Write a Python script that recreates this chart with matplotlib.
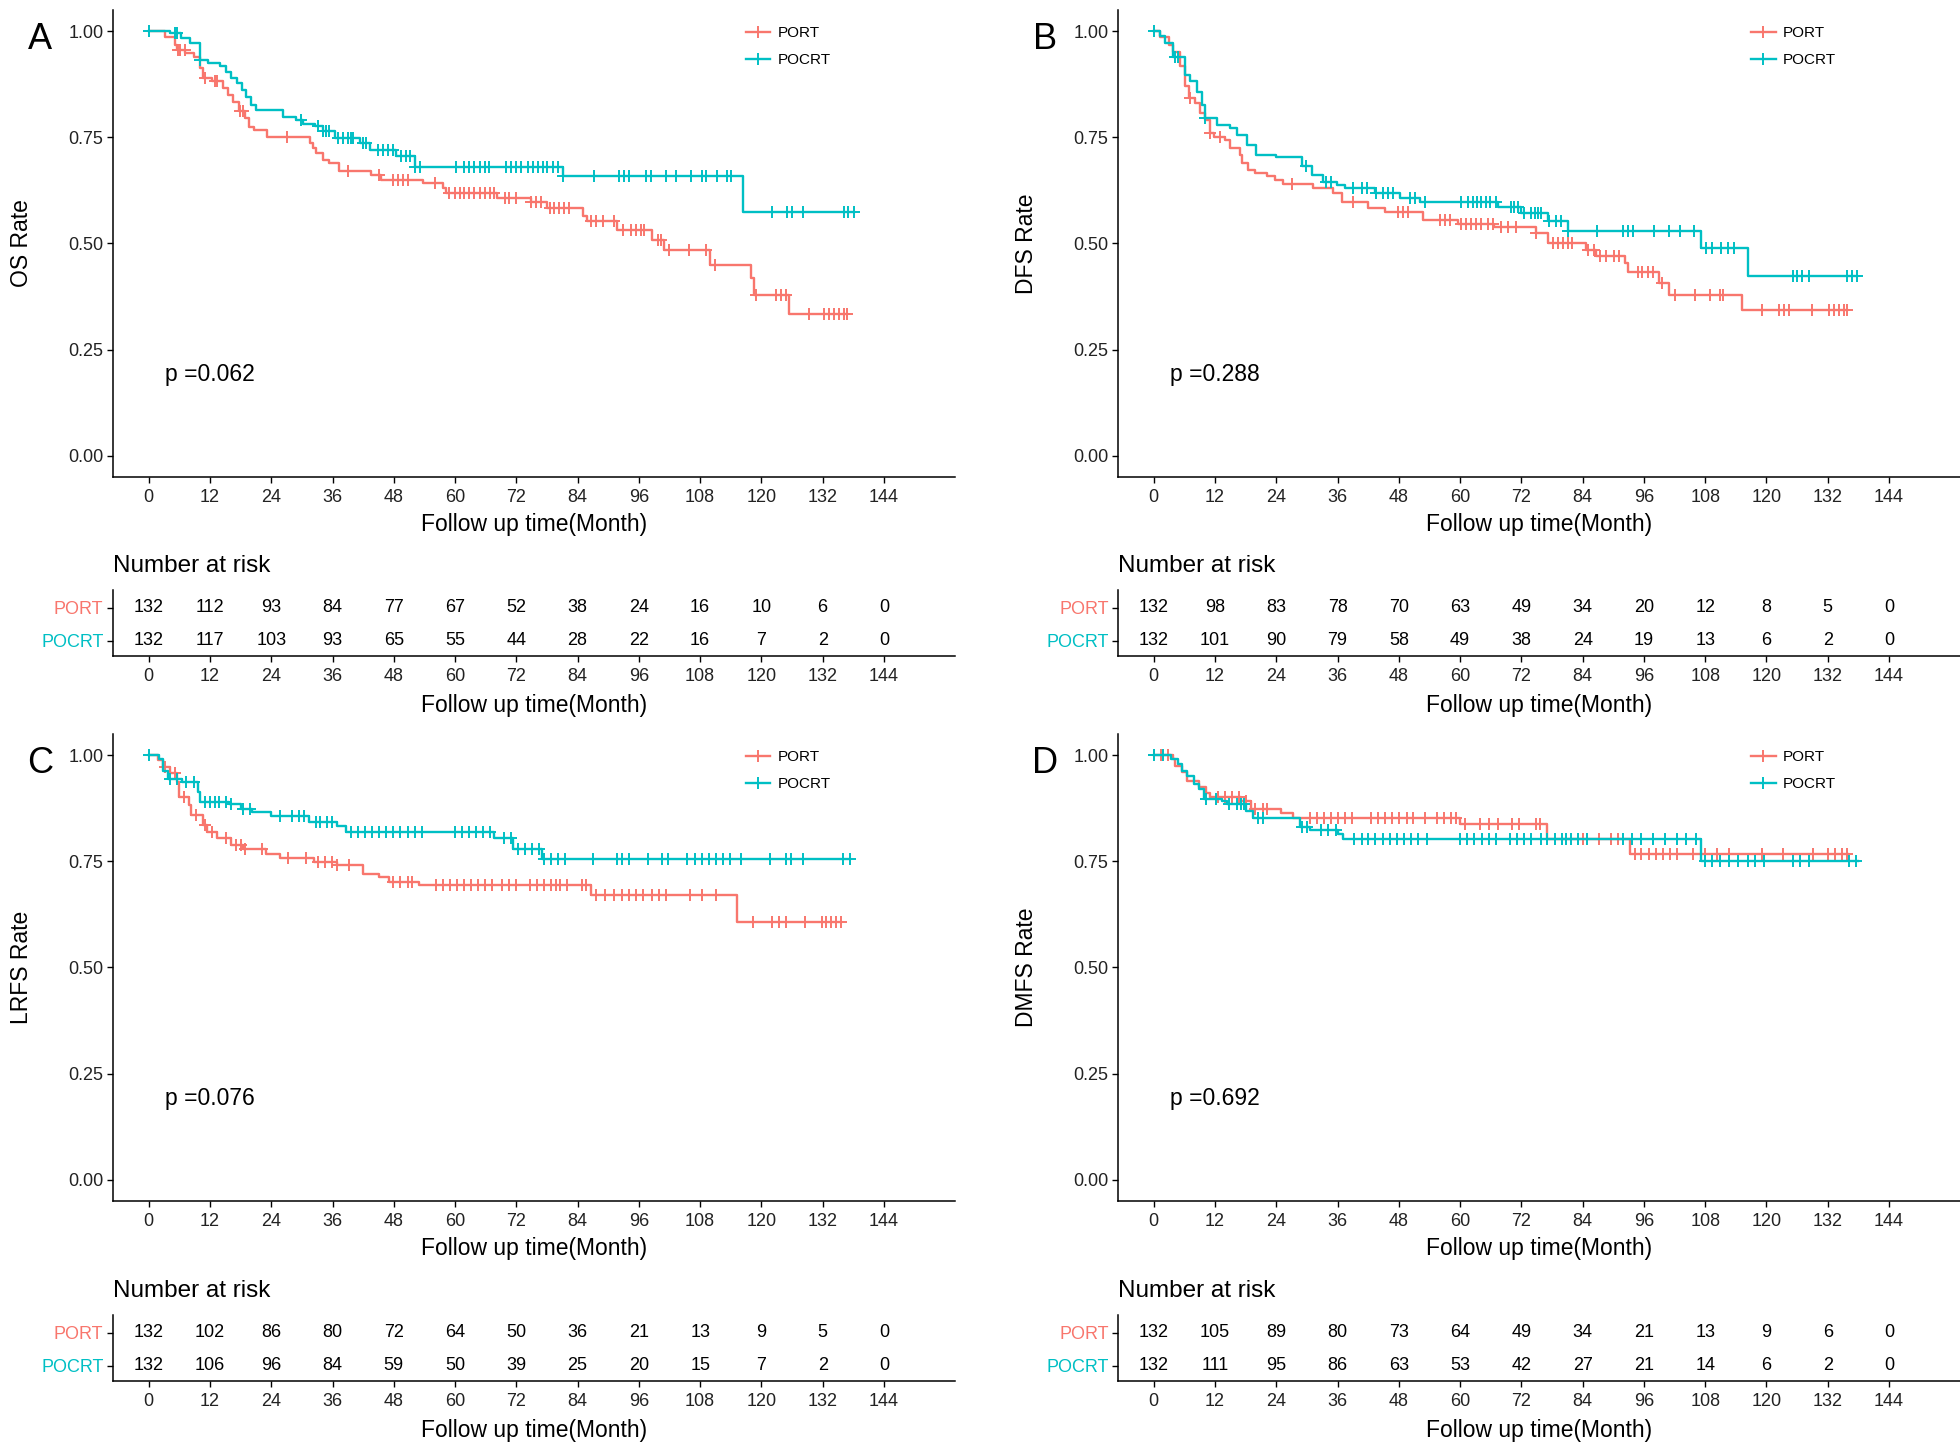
import numpy as np
import matplotlib.pyplot as plt
from matplotlib.lines import Line2D

plt.rcParams['font.family'] = ['Liberation Sans', 'DejaVu Sans']

RED = '#F8766D'
TEAL = '#00BFC4'
groups = ['PORT', 'POCRT']
breaks = [0, 12, 24, 36, 48, 60, 72, 84, 96, 108, 120, 132, 144]

# ---- A: OS ----
os_port_t = [0, 3.2, 5.1, 5.5, 7.2, 8.8, 10.1, 10.7, 12.4, 14.6, 15.6, 16.6, 17.6, 18.8, 19.6, 20.6, 23.2,
             31.5, 32.2, 32.8, 34.1, 35.4, 37.3, 43.5, 45.5, 53.7, 57.7, 58.3, 68.3, 74.9, 78.1, 85.0, 85.9,
             91.7, 98.6, 100.9, 110.0, 117.9, 118.6, 125.4]
os_port_s = [1.0, 0.987, 0.968, 0.956, 0.948, 0.94, 0.913, 0.889, 0.882, 0.866, 0.85, 0.834, 0.811, 0.795,
             0.775, 0.767, 0.752, 0.736, 0.725, 0.713, 0.697, 0.689, 0.67, 0.662, 0.65, 0.643, 0.63, 0.619,
             0.608, 0.597, 0.583, 0.564, 0.552, 0.532, 0.509, 0.484, 0.45, 0.419, 0.379, 0.334]
os_port_end = 136.8
os_port_cens = [5.8, 6.1, 7.1, 11.0, 13.0, 13.3, 17.8, 18.5, 27.0, 39.0, 45.2, 47.8, 48.8, 49.8, 50.8, 56.0,
                58.9, 59.9, 60.9, 61.8, 62.8, 63.8, 64.8, 65.8, 66.8, 67.7, 69.7, 70.6, 71.9, 74.9, 75.9, 76.8,
                78.5, 79.4, 80.4, 81.4, 82.4, 86.6, 87.6, 88.9, 91.2, 92.8, 94.4, 95.4, 96.4, 97.1, 99.7, 100.3,
                101.9, 105.9, 109.1, 111.0, 118.9, 122.8, 123.8, 124.8, 129.3, 132.3, 133.2, 134.2, 135.2,
                136.2, 136.8]
os_pocrt_t = [0, 4.2, 6.4, 8.1, 10.0, 11.6, 13.9, 15.2, 16.2, 17.2, 18.2, 19.1, 20.1, 21.1, 26.3, 28.9, 30.2,
              32.5, 34.1, 36.4, 41.3, 43.3, 48.5, 52.1, 81.1, 116.3]
os_pocrt_s = [1.0, 0.995, 0.984, 0.972, 0.932, 0.925, 0.917, 0.905, 0.889, 0.878, 0.862, 0.846, 0.826, 0.815,
              0.799, 0.791, 0.782, 0.776, 0.766, 0.748, 0.736, 0.721, 0.705, 0.681, 0.658, 0.575]
os_pocrt_end = 138.1
os_pocrt_cens = [0, 5.1, 5.5, 10.0, 29.9, 33.2, 34.1, 34.8, 35.4, 37.1, 38.1, 39.0, 39.7, 40.0, 42.0, 42.6,
                 44.9, 45.9, 46.8, 47.8, 49.5, 50.4, 51.1, 52.1, 53.1, 60.2, 61.8, 62.8, 63.8, 64.8, 65.8, 66.7,
                 70.0, 70.9, 71.9, 72.9, 74.2, 75.2, 76.2, 77.2, 78.1, 79.1, 80.1, 81.1, 87.3, 92.2, 93.0, 94.0,
                 97.4, 98.3, 101.3, 103.2, 106.2, 108.3, 109.1, 111.4, 113.3, 114.0, 122.1, 125.1, 125.9, 128.1,
                 136.1, 137.0, 138.1]

# ---- B: DFS ----
dfs_port_t = [0, 1.2, 2.9, 3.8, 5.1, 6.1, 6.8, 8.1, 9.0, 10.0, 11.0, 11.7, 14.0, 14.9, 16.9, 17.2, 18.5, 19.8,
              22.1, 23.7, 25.4, 31.2, 35.1, 36.8, 42.0, 45.2, 52.7, 59.6, 66.7, 74.9, 77.2, 84.7, 86.6, 92.2,
              92.8, 99.0, 101.0, 115.3]
dfs_port_s = [1.0, 0.987, 0.968, 0.952, 0.917, 0.87, 0.842, 0.831, 0.807, 0.791, 0.76, 0.752, 0.744, 0.725,
              0.709, 0.689, 0.674, 0.666, 0.658, 0.65, 0.641, 0.631, 0.619, 0.597, 0.584, 0.573, 0.556, 0.547,
              0.54, 0.525, 0.501, 0.485, 0.47, 0.454, 0.434, 0.407, 0.379, 0.344]
dfs_port_end = 135.8
dfs_port_cens = [7.1, 11.0, 13.0, 27.0, 39.0, 47.8, 48.8, 49.8, 56.0, 57.0, 58.0, 60.2, 61.2, 62.2, 63.2, 64.1,
                 65.4, 66.4, 68.0, 69.3, 71.0, 74.9, 78.1, 79.1, 80.1, 81.1, 82.0, 85.0, 86.3, 87.3, 88.6, 90.2,
                 91.2, 94.8, 95.7, 96.7, 97.7, 99.6, 102.0, 106.0, 109.0, 110.8, 111.4, 119.2, 122.5, 123.5,
                 124.4, 129.0, 132.3, 133.2, 134.2, 135.2, 135.8]
dfs_pocrt_t = [0, 1.2, 2.2, 3.8, 6.1, 7.1, 8.4, 9.4, 10.0, 12.3, 14.9, 16.2, 18.2, 20.1, 24.0, 29.0, 30.9, 33.2,
               35.8, 37.4, 43.3, 48.2, 52.1, 67.5, 71.9, 77.2, 81.1, 107.2, 116.3]
dfs_pocrt_s = [1.0, 0.989, 0.972, 0.94, 0.897, 0.882, 0.858, 0.827, 0.795, 0.78, 0.772, 0.756, 0.733, 0.709,
               0.704, 0.682, 0.662, 0.646, 0.638, 0.631, 0.619, 0.607, 0.598, 0.587, 0.571, 0.552, 0.529, 0.489,
               0.423]
dfs_pocrt_end = 137.8
dfs_pocrt_cens = [0, 4.2, 4.8, 10.0, 29.9, 33.8, 34.8, 39.0, 40.7, 41.7, 43.6, 44.9, 45.9, 46.9, 50.1, 51.1,
                  53.1, 60.2, 61.5, 62.5, 63.3, 64.1, 65.1, 65.9, 67.1, 70.0, 70.6, 71.3, 72.6, 73.9, 74.6, 75.2,
                  75.9, 77.5, 78.8, 79.8, 81.1, 86.9, 91.8, 92.8, 93.8, 98.0, 101.0, 103.0, 105.9, 108.2, 109.4,
                  111.1, 112.4, 113.7, 125.1, 126.0, 127.0, 128.3, 135.8, 136.8, 137.8]

# ---- C: LRFS ----
lrfs_port_t = [0, 1.8, 2.8, 4.1, 5.5, 6.0, 7.8, 8.3, 10.6, 11.5, 13.4, 16.1, 18.4, 23.0, 25.8, 32.3, 36.9, 41.9,
               45.2, 47.0, 53.0, 86.6, 115.2]
lrfs_port_s = [1.0, 0.988, 0.972, 0.957, 0.937, 0.902, 0.882, 0.859, 0.835, 0.819, 0.804, 0.788, 0.78, 0.768,
               0.759, 0.749, 0.741, 0.721, 0.713, 0.702, 0.694, 0.67, 0.608]
lrfs_port_end = 135.5
lrfs_port_cens = [3.2, 5.1, 6.9, 9.2, 11.1, 12.4, 15.2, 17.1, 18.0, 18.9, 22.1, 27.2, 30.9, 33.2, 34.6, 35.9,
                  36.9, 39.2, 47.9, 49.3, 50.7, 51.6, 56.2, 57.6, 59.0, 60.4, 61.8, 63.1, 64.5, 65.9, 67.3, 69.1,
                  70.5, 71.9, 74.7, 76.0, 77.4, 78.8, 79.7, 80.6, 82.0, 84.8, 85.7, 87.6, 89.4, 91.2, 92.6, 94.0,
                  95.4, 96.8, 98.6, 100.0, 101.4, 106.0, 108.3, 111.1, 118.4, 122.1, 123.5, 124.9, 128.6, 131.8,
                  132.7, 133.6, 134.6, 135.5]
lrfs_pocrt_t = [0, 2.0, 2.8, 3.7, 6.5, 9.7, 10.1, 15.7, 18.0, 20.3, 24.0, 31.3, 36.9, 38.7, 67.7, 71.4, 77.0]
lrfs_pocrt_s = [1.0, 0.992, 0.964, 0.945, 0.937, 0.913, 0.89, 0.884, 0.874, 0.866, 0.856, 0.843, 0.833, 0.819,
                0.804, 0.78, 0.755]
lrfs_pocrt_end = 137.3
lrfs_pocrt_cens = [0, 4.1, 5.5, 7.4, 8.8, 11.1, 12.0, 12.9, 13.8, 15.2, 16.1, 18.4, 19.8, 25.8, 28.1, 29.5, 30.4,
                   32.7, 33.6, 35.0, 35.9, 39.6, 41.0, 42.4, 43.8, 45.2, 46.5, 47.9, 49.3, 50.7, 52.1, 53.5, 59.9,
                   61.3, 62.7, 64.1, 65.4, 66.8, 69.6, 71.0, 72.4, 73.7, 75.1, 76.5, 77.4, 78.8, 80.2, 81.6, 87.1,
                   91.7, 92.6, 94.0, 97.7, 100.5, 101.8, 105.5, 106.9, 108.3, 109.7, 111.1, 112.4, 113.8, 116.1,
                   121.7, 124.9, 125.8, 128.1, 135.9, 137.3]

# ---- D: DMFS ----
dmfs_port_t = [0, 3.8, 4.2, 5.6, 6.5, 8.8, 10.2, 11.1, 17.1, 19.0, 25.0, 27.3, 60.0, 77.1, 93.2]
dmfs_port_s = [1.0, 0.991, 0.975, 0.96, 0.94, 0.924, 0.912, 0.901, 0.893, 0.873, 0.864, 0.853, 0.838, 0.802,
               0.767]
dmfs_port_end = 136.0
dmfs_port_cens = [0.1, 1.5, 2.8, 12.5, 13.9, 15.3, 16.7, 18.1, 19.9, 21.3, 22.2, 30.5, 31.9, 33.3, 34.7, 36.1,
                  37.4, 38.8, 42.5, 43.9, 45.3, 46.7, 48.1, 49.5, 50.8, 53.1, 55.4, 56.8, 58.2, 59.1, 61.0, 63.8,
                  65.6, 67.4, 70.2, 71.6, 74.8, 75.7, 84.0, 87.2, 89.6, 90.9, 94.2, 95.5, 96.9, 98.3, 99.7, 101.1,
                  102.5, 105.7, 108.0, 110.3, 112.6, 119.1, 123.2, 129.2, 132.0, 133.4, 134.8, 135.7]
dmfs_pocrt_t = [0, 3.3, 4.7, 5.6, 6.5, 7.9, 8.8, 9.8, 13.4, 14.4, 18.1, 19.4, 28.7, 30.5, 36.1, 37.0, 107.1]
dmfs_pocrt_s = [1.0, 0.991, 0.979, 0.964, 0.952, 0.932, 0.92, 0.897, 0.893, 0.885, 0.869, 0.851, 0.832, 0.824,
                0.815, 0.803, 0.751]
dmfs_pocrt_end = 138.0
dmfs_pocrt_cens = [0.1, 1.9, 10.2, 12.1, 14.8, 16.2, 17.1, 17.6, 20.4, 21.3, 29.1, 30.0, 32.8, 34.2, 35.6, 39.3,
                   40.7, 42.0, 43.4, 44.8, 46.2, 47.6, 49.0, 50.3, 51.7, 53.6, 60.0, 61.4, 62.8, 64.2, 65.6, 67.0,
                   69.7, 71.1, 72.5, 73.9, 75.8, 77.1, 78.5, 79.9, 80.8, 81.7, 83.1, 84.9, 91.9, 93.7, 95.5, 97.8,
                   100.2, 102.5, 104.3, 106.2, 108.0, 109.4, 110.8, 112.6, 114.5, 116.3, 117.7, 119.5, 125.1,
                   126.5, 128.3, 136.1, 137.5]

# ---- numbers at risk ----
os_risk_port = [132, 112, 93, 84, 77, 67, 52, 38, 24, 16, 10, 6, 0]
os_risk_pocrt = [132, 117, 103, 93, 65, 55, 44, 28, 22, 16, 7, 2, 0]
dfs_risk_port = [132, 98, 83, 78, 70, 63, 49, 34, 20, 12, 8, 5, 0]
dfs_risk_pocrt = [132, 101, 90, 79, 58, 49, 38, 24, 19, 13, 6, 2, 0]
lrfs_risk_port = [132, 102, 86, 80, 72, 64, 50, 36, 21, 13, 9, 5, 0]
lrfs_risk_pocrt = [132, 106, 96, 84, 59, 50, 39, 25, 20, 15, 7, 2, 0]
dmfs_risk_port = [132, 105, 89, 80, 73, 64, 49, 34, 21, 13, 9, 6, 0]
dmfs_risk_pocrt = [132, 111, 95, 86, 63, 53, 42, 27, 21, 14, 6, 2, 0]

panels = [
    ('A', 'OS Rate', 'p =0.062',
     (os_port_t, os_port_s, os_port_end, os_port_cens),
     (os_pocrt_t, os_pocrt_s, os_pocrt_end, os_pocrt_cens), os_risk_port, os_risk_pocrt),
    ('B', 'DFS Rate', 'p =0.288',
     (dfs_port_t, dfs_port_s, dfs_port_end, dfs_port_cens),
     (dfs_pocrt_t, dfs_pocrt_s, dfs_pocrt_end, dfs_pocrt_cens), dfs_risk_port, dfs_risk_pocrt),
    ('C', 'LRFS Rate', 'p =0.076',
     (lrfs_port_t, lrfs_port_s, lrfs_port_end, lrfs_port_cens),
     (lrfs_pocrt_t, lrfs_pocrt_s, lrfs_pocrt_end, lrfs_pocrt_cens), lrfs_risk_port, lrfs_risk_pocrt),
    ('D', 'DMFS Rate', 'p =0.692',
     (dmfs_port_t, dmfs_port_s, dmfs_port_end, dmfs_port_cens),
     (dmfs_pocrt_t, dmfs_pocrt_s, dmfs_pocrt_end, dmfs_pocrt_cens), dmfs_risk_port, dmfs_risk_pocrt),
]

XMIN, XMAX = -7.09, 157.9
TICK_C = '#222222'


def draw_km(ax, curve, color):
    t, s, t_end, cens = curve
    t = np.asarray(t)
    s = np.asarray(s)
    ax.plot(np.append(t, t_end), np.append(s, s[-1]), drawstyle='steps-post', color=color, lw=1.7)
    cens = np.asarray(cens)
    idx = np.searchsorted(t, cens, side='right') - 1
    ax.plot(cens, s[idx], ls='none', marker='+', ms=9, mew=1.4, color=color)


def style_axis(ax, labelpad):
    for side in ('top', 'right'):
        ax.spines[side].set_visible(False)
    for side in ('left', 'bottom'):
        ax.spines[side].set_linewidth(1.1)
        ax.spines[side].set_color('black')
    ax.set_xlim(XMIN, XMAX)
    ax.set_xticks(breaks)
    ax.tick_params(axis='x', length=4, width=1, pad=5, labelsize=13, labelcolor=TICK_C)
    ax.tick_params(axis='y', length=4, width=1, pad=2.5, labelsize=13, labelcolor=TICK_C)
    ax.set_xlabel('Follow up time(Month)', fontsize=16.5, labelpad=labelpad)


fig = plt.figure(figsize=(19.6, 14.48), dpi=100)

lefts = [0.0574, 0.5702, 0.0574, 0.5702]
main_bottoms = [0.6706, 0.6706, 0.1706, 0.1706]
tab_bottoms = [0.5470, 0.5470, 0.0463, 0.0463]
W = 0.4298

for i, (letter, ylab, ptxt, port, pocrt, r_port, r_pocrt) in enumerate(panels):
    ax = fig.add_axes([lefts[i], main_bottoms[i], W, 0.3225])
    draw_km(ax, port, RED)
    draw_km(ax, pocrt, TEAL)
    style_axis(ax, 4.5)
    ax.set_ylim(-0.05, 1.05)
    ax.set_yticks([0, 0.25, 0.5, 0.75, 1.0])
    ax.set_yticklabels(['0.00', '0.25', '0.50', '0.75', '1.00'])
    ax.set_ylabel(ylab, fontsize=16.5)
    ax.yaxis.set_label_coords(-0.0945, 0.5)
    ax.text(3.2, 0.191, ptxt, fontsize=16.5, ha='left', va='center')
    handles = [Line2D([], [], color=RED, lw=1.7, marker='+', ms=9, mew=1.4),
               Line2D([], [], color=TEAL, lw=1.7, marker='+', ms=9, mew=1.4)]
    ax.legend(handles, groups, loc='upper left', bbox_to_anchor=(0.752, 0.965), frameon=False,
              fontsize=11, handlelength=1.6, handletextpad=0.5, labelspacing=0.85,
              borderpad=0, borderaxespad=0, numpoints=1)
    fig.text(lefts[i] - 0.0574 + 40 / 1960, main_bottoms[i] + 0.3225 - 0.0205,
             letter, fontsize=26, ha='center', va='center')

    # number at risk table
    tb = fig.add_axes([lefts[i], tab_bottoms[i], W, 0.0456])
    style_axis(tb, 6)
    tb.set_ylim(0.545, 2.545)
    tb.set_yticks([2, 1])
    tb.set_yticklabels(groups, fontsize=13)
    for lab, c in zip(tb.get_yticklabels(), [RED, TEAL]):
        lab.set_color(c)
    for x, a, b in zip(breaks, r_port, r_pocrt):
        tb.text(x, 2, str(a), ha='center', va='center', fontsize=13, color='black')
        tb.text(x, 1, str(b), ha='center', va='center', fontsize=13, color='black')
    tb.set_title('Number at risk', loc='left', fontsize=17.5, pad=13)

fig.savefig('out.png', dpi=100)
